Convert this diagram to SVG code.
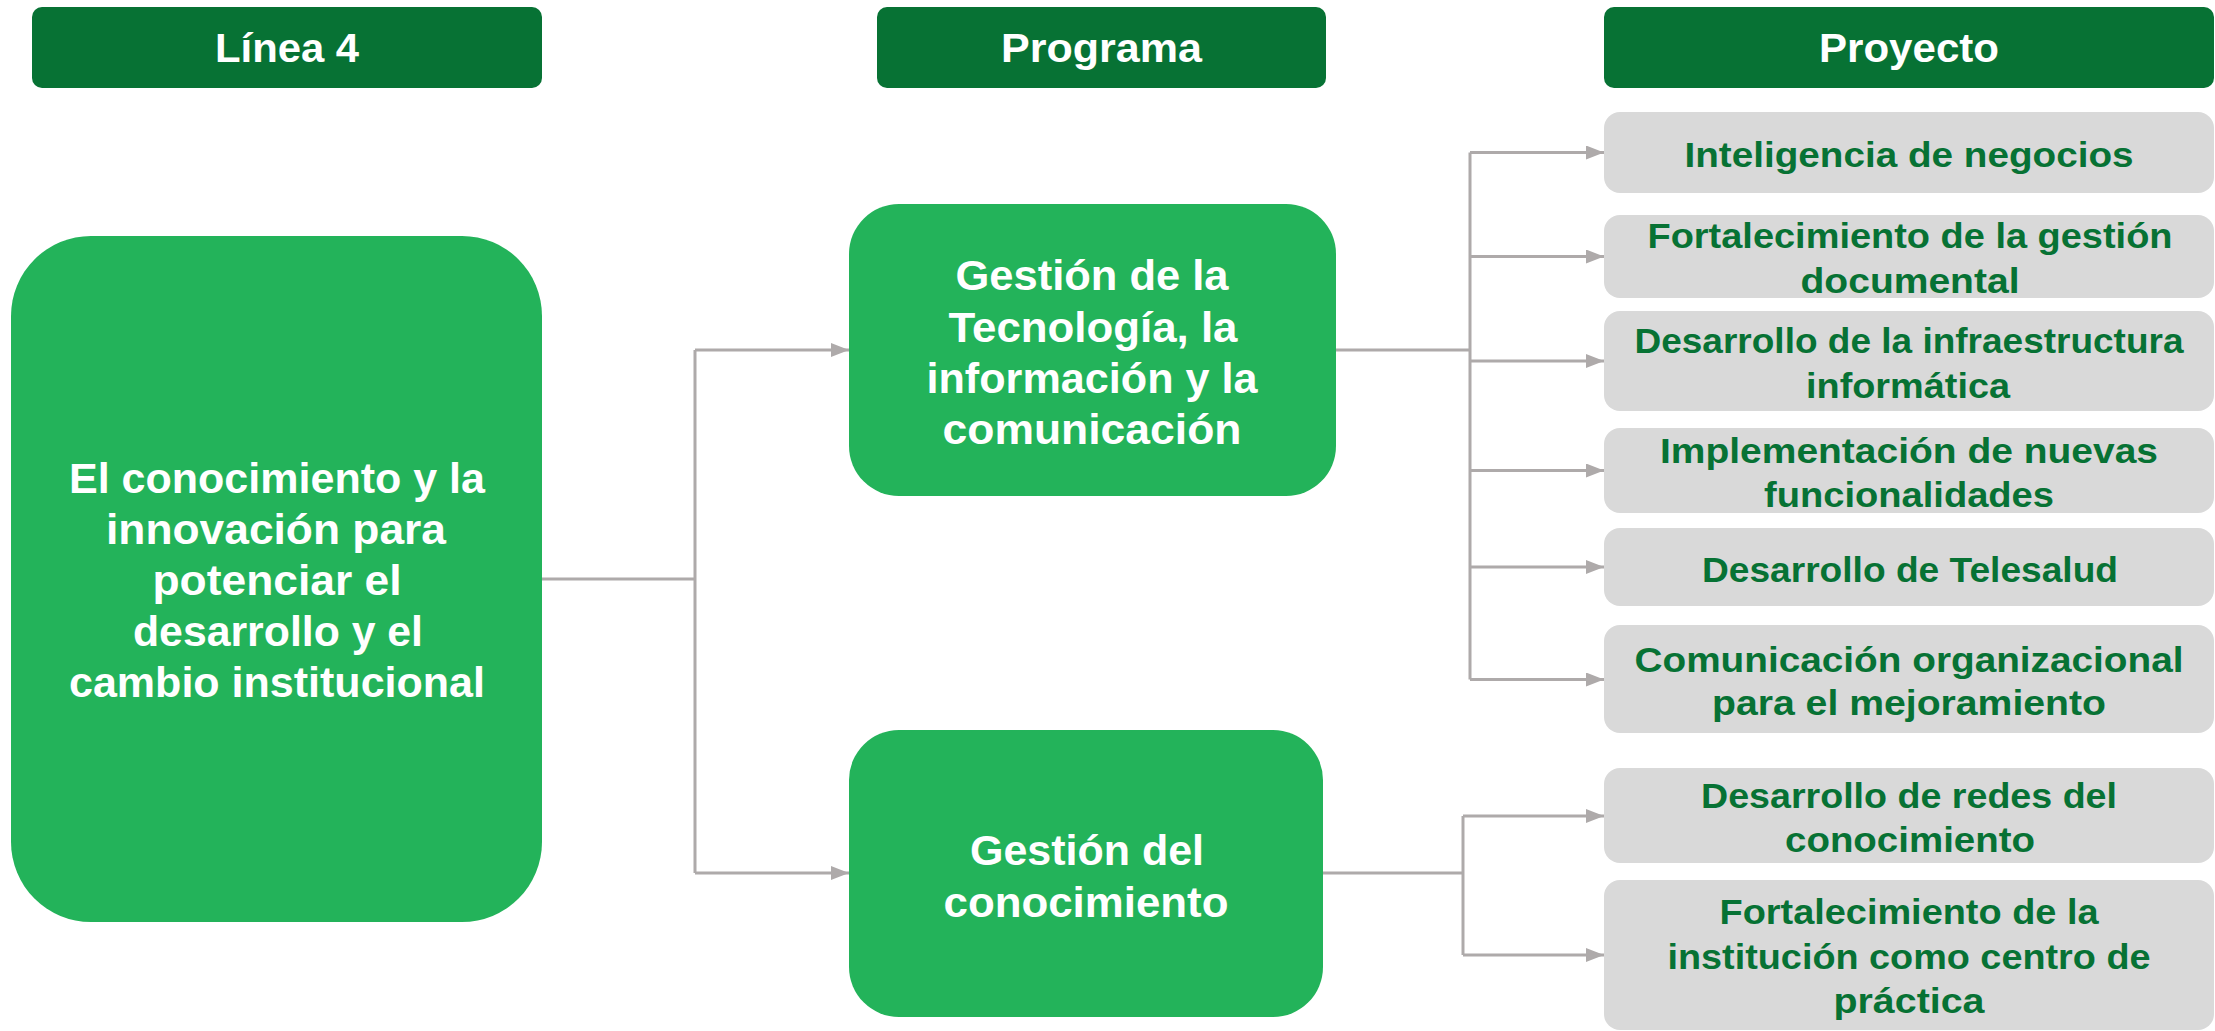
<svg xmlns="http://www.w3.org/2000/svg" width="2215" height="1031" viewBox="0 0 2215 1031">
<style>
.hdr{fill:#077234}
.hdrt{fill:#ffffff;font-family:"Liberation Sans",Arial,sans-serif;font-weight:bold;font-size:40px;text-anchor:middle}
.gn{fill:#23B35A}
.gnt{fill:#ffffff;font-family:"Liberation Sans",Arial,sans-serif;font-weight:bold;font-size:42px;text-anchor:middle}
.pj{fill:#D9D9D9}
.pjt{fill:#077234;font-family:"Liberation Sans",Arial,sans-serif;font-weight:bold;font-size:35px;text-anchor:middle}
.cn{stroke:#AEAAAA;stroke-width:3;fill:none}
.ar{stroke:#AEAAAA;stroke-width:3;fill:none;marker-end:url(#arr)}
</style>
<defs>
<marker id="arr" viewBox="0 0 18 14" markerUnits="userSpaceOnUse" markerWidth="18" markerHeight="14" refX="18" refY="7" orient="auto">
<path d="M0,0 L18,7 L0,14 z" fill="#AEAAAA"/>
</marker>
</defs>
<rect width="2215" height="1031" fill="#ffffff"/>

<g id="connectors">
<path class="cn" d="M542,579 H695"/>
<path class="cn" d="M695,350 V873"/>
<path class="ar" d="M695,350 H849"/>
<path class="ar" d="M695,873 H849"/>
<path class="cn" d="M1336,350 H1470"/>
<path class="cn" d="M1470,152.5 V679.5"/>
<path class="ar" d="M1470,152.5 H1604"/>
<path class="ar" d="M1470,256.5 H1604"/>
<path class="ar" d="M1470,361 H1604"/>
<path class="ar" d="M1470,470.5 H1604"/>
<path class="ar" d="M1470,567 H1604"/>
<path class="ar" d="M1470,679.5 H1604"/>
<path class="cn" d="M1323,873 H1463"/>
<path class="cn" d="M1463,816 V955"/>
<path class="ar" d="M1463,816 H1604"/>
<path class="ar" d="M1463,955 H1604"/>
</g>

<g id="hdr-linea">
<rect class="hdr" x="32" y="7" width="510" height="81" rx="10"/>
<text class="hdrt" x="287" y="62" textLength="144" lengthAdjust="spacingAndGlyphs">Línea 4</text>
</g>
<g id="hdr-programa">
<rect class="hdr" x="877" y="7" width="449" height="81" rx="10"/>
<text class="hdrt" x="1101.5" y="62" textLength="201" lengthAdjust="spacingAndGlyphs">Programa</text>
</g>
<g id="hdr-proyecto">
<rect class="hdr" x="1604" y="7" width="610" height="81" rx="10"/>
<text class="hdrt" x="1909" y="62" textLength="180" lengthAdjust="spacingAndGlyphs">Proyecto</text>
</g>

<g id="linea4">
<rect class="gn" x="11" y="236" width="531" height="686" rx="80"/>
<text class="gnt" x="277" y="493" textLength="416" lengthAdjust="spacingAndGlyphs">El conocimiento y la</text>
<text class="gnt" x="276" y="544" textLength="340" lengthAdjust="spacingAndGlyphs">innovación para</text>
<text class="gnt" x="277" y="595" textLength="249" lengthAdjust="spacingAndGlyphs">potenciar el</text>
<text class="gnt" x="278" y="646" textLength="290" lengthAdjust="spacingAndGlyphs">desarrollo y el</text>
<text class="gnt" x="277" y="697" textLength="416" lengthAdjust="spacingAndGlyphs">cambio institucional</text>
</g>

<g id="prog-tic">
<rect class="gn" x="849" y="204" width="487" height="292" rx="50"/>
<text class="gnt" x="1092" y="290" textLength="273" lengthAdjust="spacingAndGlyphs">Gestión de la</text>
<text class="gnt" x="1093" y="342" textLength="289" lengthAdjust="spacingAndGlyphs">Tecnología, la</text>
<text class="gnt" x="1092" y="393" textLength="331" lengthAdjust="spacingAndGlyphs">información y la</text>
<text class="gnt" x="1092" y="444" textLength="299" lengthAdjust="spacingAndGlyphs">comunicación</text>
</g>

<g id="prog-conocimiento">
<rect class="gn" x="849" y="730" width="474" height="287" rx="50"/>
<text class="gnt" x="1087" y="865" textLength="234" lengthAdjust="spacingAndGlyphs">Gestión del</text>
<text class="gnt" x="1086" y="917" textLength="285" lengthAdjust="spacingAndGlyphs">conocimiento</text>
</g>

<g id="proy-1">
<rect class="pj" x="1604" y="112" width="610" height="81" rx="16"/>
<text class="pjt" x="1909" y="167" textLength="449" lengthAdjust="spacingAndGlyphs">Inteligencia de negocios</text>
</g>
<g id="proy-2">
<rect class="pj" x="1604" y="215" width="610" height="83" rx="16"/>
<text class="pjt" x="1910" y="248" textLength="525" lengthAdjust="spacingAndGlyphs">Fortalecimiento de la gestión</text>
<text class="pjt" x="1910" y="293" textLength="219" lengthAdjust="spacingAndGlyphs">documental</text>
</g>
<g id="proy-3">
<rect class="pj" x="1604" y="311" width="610" height="100" rx="16"/>
<text class="pjt" x="1909" y="353" textLength="549" lengthAdjust="spacingAndGlyphs">Desarrollo de la infraestructura</text>
<text class="pjt" x="1908" y="398" textLength="204" lengthAdjust="spacingAndGlyphs">informática</text>
</g>
<g id="proy-4">
<rect class="pj" x="1604" y="428" width="610" height="85" rx="16"/>
<text class="pjt" x="1909" y="463" textLength="498" lengthAdjust="spacingAndGlyphs">Implementación de nuevas</text>
<text class="pjt" x="1909" y="507" textLength="290" lengthAdjust="spacingAndGlyphs">funcionalidades</text>
</g>
<g id="proy-5">
<rect class="pj" x="1604" y="528" width="610" height="78" rx="16"/>
<text class="pjt" x="1910" y="582" textLength="416" lengthAdjust="spacingAndGlyphs">Desarrollo de Telesalud</text>
</g>
<g id="proy-6">
<rect class="pj" x="1604" y="625" width="610" height="108" rx="16"/>
<text class="pjt" x="1909" y="672" textLength="549" lengthAdjust="spacingAndGlyphs">Comunicación organizacional</text>
<text class="pjt" x="1909" y="715" textLength="394" lengthAdjust="spacingAndGlyphs">para el mejoramiento</text>
</g>
<g id="proy-7">
<rect class="pj" x="1604" y="768" width="610" height="95" rx="16"/>
<text class="pjt" x="1909" y="808" textLength="416" lengthAdjust="spacingAndGlyphs">Desarrollo de redes del</text>
<text class="pjt" x="1910" y="852" textLength="250" lengthAdjust="spacingAndGlyphs">conocimiento</text>
</g>
<g id="proy-8">
<rect class="pj" x="1604" y="880" width="610" height="150" rx="16"/>
<text class="pjt" x="1909" y="924" textLength="379" lengthAdjust="spacingAndGlyphs">Fortalecimiento de la</text>
<text class="pjt" x="1909" y="969" textLength="483" lengthAdjust="spacingAndGlyphs">institución como centro de</text>
<text class="pjt" x="1909" y="1013" textLength="151" lengthAdjust="spacingAndGlyphs">práctica</text>
</g>
</svg>
